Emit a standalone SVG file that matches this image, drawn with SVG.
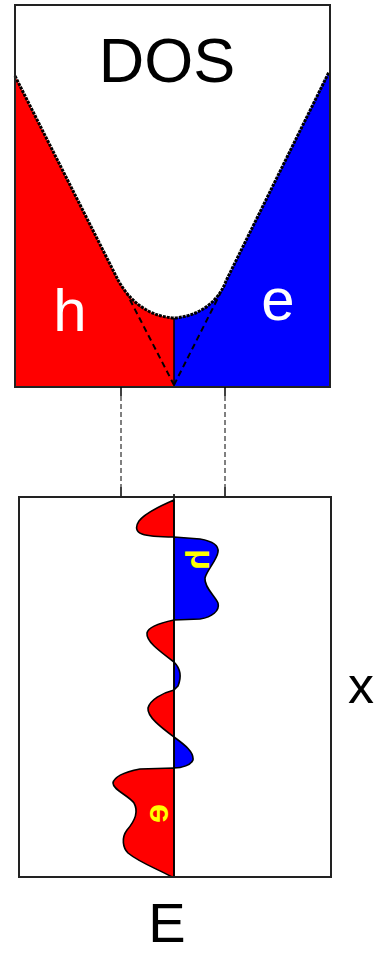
<svg xmlns="http://www.w3.org/2000/svg" width="375" height="955" viewBox="0 0 375 955">
<style>
.frame{fill:none;stroke:#222;stroke-width:2}
.red{fill:#ff0000}
.blue{fill:#0000ff}
.lobe{stroke:#000;stroke-width:1.6;stroke-linejoin:round}
.curve{fill:none;stroke:#000;stroke-width:3;stroke-dasharray:3 1}
.asym{fill:none;stroke:#000;stroke-width:2;stroke-dasharray:6 4}
.guide{fill:none;stroke:#000;stroke-width:1;stroke-dasharray:5 3}
.tick{stroke:#000;stroke-width:1.5}
.lbl{font-family:"Liberation Sans",Arial,sans-serif}
.yl{font-family:"Liberation Sans",Arial,sans-serif;fill:#ffff00;font-weight:bold}
</style>
<g id="dos-panel">
<path class="red" d="M15,76 L118,280 C128,298 145,316 174,318 L174,387 L15,387 Z"/>
<path class="blue" d="M174,318 C203,316 220,298 226,281 L328,73 L330,73 L330,387 L174,387 Z"/>
<path class="curve" d="M15,76 L118,280 C128,298 145,316 174,318 C203,316 220,298 226,281 L329,72"/>
<line x1="174" y1="318" x2="174" y2="387" stroke="#000" stroke-width="1.5"/>
<path class="asym" d="M174,385 L127,294 M174,385 L220,294"/>
<rect class="frame" x="15" y="5" width="315" height="382"/>
<text class="lbl" x="167" y="82" font-size="63" text-anchor="middle" fill="#000">DOS</text>
<text class="lbl" x="70" y="331" font-size="60" text-anchor="middle" fill="#fff">h</text>
<text class="lbl" x="278" y="320" font-size="60" text-anchor="middle" fill="#fff">e</text>
</g>
<g id="connectors">
<line class="tick" x1="121" y1="387" x2="121" y2="396"/>
<line class="tick" x1="225" y1="387" x2="225" y2="396"/>
<line class="guide" x1="121" y1="396" x2="121" y2="487"/>
<line class="guide" x1="225" y1="396" x2="225" y2="487"/>
<line class="tick" x1="121" y1="487" x2="121" y2="496"/>
<line class="tick" x1="225" y1="487" x2="225" y2="496"/>
</g>
<g id="wave-panel">
<path class="red lobe" d="M174,500 C160,506 145,513 139,521 C135,527 136,532 142,534 C150,537 162,537 174,537 Z"/>
<path class="blue lobe" d="M174,537 L200,539 C212,541 219,545 218,552 C217,560 207,570 205,578 C204,587 214,595 218,603 C220,611 212,617 200,619 L174,620 Z"/>
<path class="red lobe" d="M174,620 C160,623 148,627 147,633 C146,641 158,650 174,662 Z"/>
<path class="blue lobe" d="M174,662 C180,668 182,676 178,686 L174,690 Z"/>
<path class="red lobe" d="M174,690 C162,693 150,700 148,708 C147,717 162,728 174,737 Z"/>
<path class="blue lobe" d="M174,737 C185,745 194,752 193,760 C191,765 182,768 174,768 Z"/>
<path class="red lobe" d="M174,768 L140,769 C125,772 114,777 113,783 C113,790 128,795 134,803 C139,812 134,822 127,830 C121,838 123,848 128,853 C140,863 160,870 172,877 L174,877 Z"/>
<line x1="174" y1="494" x2="174" y2="877" stroke="#000" stroke-width="1.6"/>
<rect class="frame" x="19" y="497" width="312" height="380"/>
<text class="yl" font-size="34" transform="matrix(0,1,1,0,209,549)">h</text>
<text class="yl" font-size="34" transform="matrix(0,1,1,0,168,804)">e</text>
<text class="lbl" x="348" y="703" font-size="52" fill="#000">x</text>
<text class="lbl" x="167" y="942" font-size="56" text-anchor="middle" fill="#000">E</text>
</g>
</svg>
